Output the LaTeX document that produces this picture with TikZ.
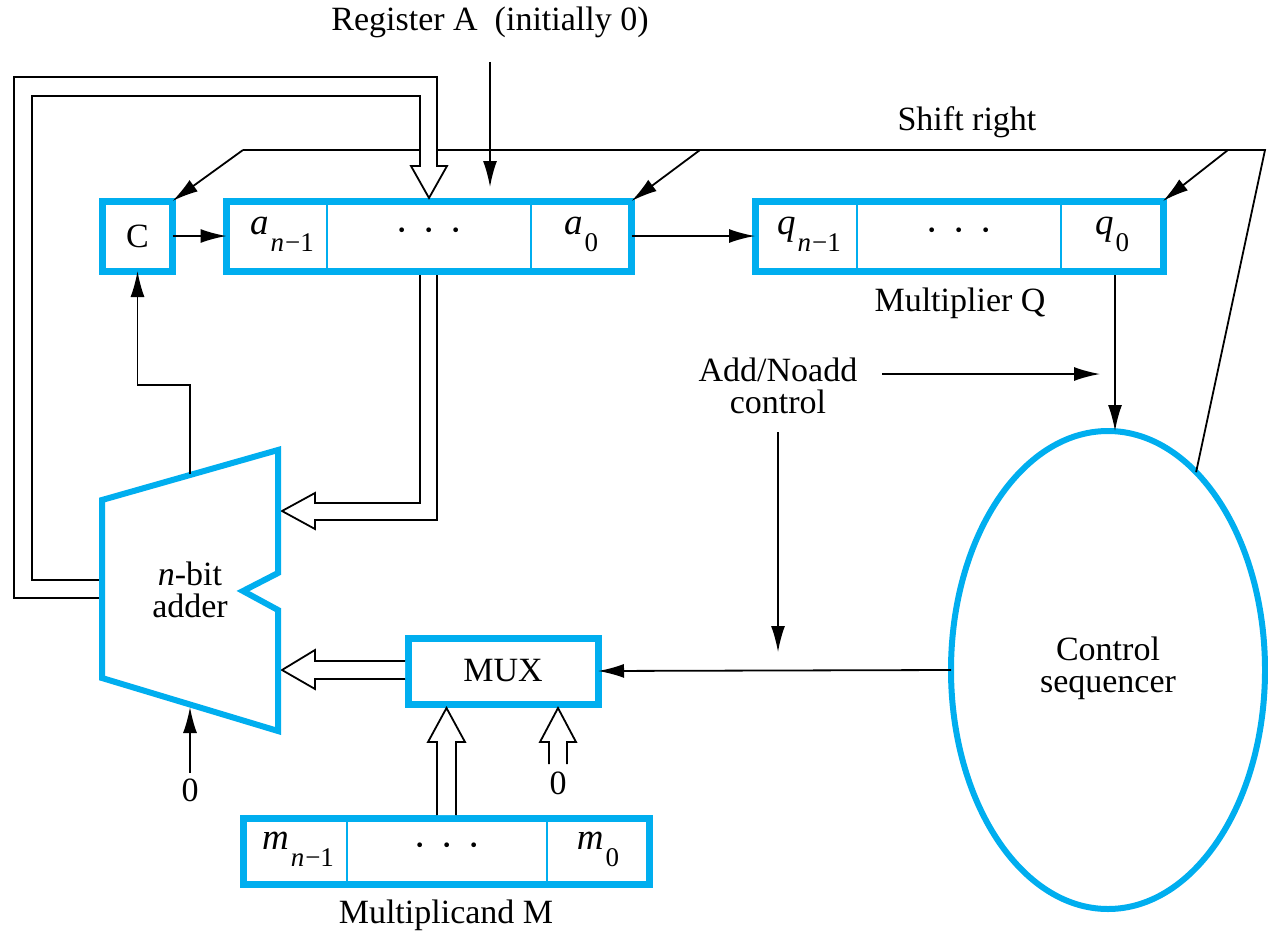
\documentclass[tikz,border=0pt]{standalone}
\usepackage{fontspec}
\setmainfont{Liberation Serif}
\usetikzlibrary{arrows.meta,shapes.geometric}
\definecolor{regblue}{RGB}{0,174,239}
\newcommand{\lowsub}[1]{\raisebox{-0.5em}{\fontsize{27}{27}\selectfont #1}}
\newcommand{\cellvar}[2]{{\fontsize{37}{37}\selectfont\itshape #1}\kern2pt\lowsub{#2}}
\newcommand{\nmone}{{\itshape n}\kern1pt−1}
\newcommand{\threedots}{{\fontsize{40}{40}\selectfont ·\hspace{14pt}·\hspace{14pt}·}}
\begin{document}
\begin{tikzpicture}[x=1pt,y=-1pt,
  every node/.style={inner sep=0pt,outer sep=0pt,font=\fontsize{34}{32}\selectfont},
  reg/.style={draw=regblue,line width=7pt,rectangle,fill=white},
  cellline/.style={draw=regblue,line width=2pt},
  wire/.style={draw=black,line width=1.8pt},
  sig/.style={wire,-{Latex[length=26pt,width=14pt]}},
  bus/.style={draw=black,line width=1.8pt,fill=white,line join=miter}]
\useasboundingbox (0,0) rectangle (1268,934);

% ---------- registers and blocks ----------
\node[reg,minimum width=70,minimum height=70] (C) at (137.5,236) {C};
\node[reg,minimum width=405,minimum height=70] (A) at (429,236) {};
\node[reg,minimum width=408,minimum height=70] (Q) at (959,236) {};
\node[reg,minimum width=190,minimum height=66] (mux) at (503,671) {MUX};
\node[reg,minimum width=406,minimum height=66] (M) at (446,851) {};
\node[draw=regblue,line width=6pt,ellipse,minimum width=314,minimum height=478] (seq) at (1108,670) {};
\node[align=center] (seqtext) at (1108,668) {Control\\sequencer};

% cell dividers
\draw[cellline] (A.north -| 327,0) -- (A.south -| 327,0);
\draw[cellline] (A.north -| 531,0) -- (A.south -| 531,0);
\draw[cellline] (Q.north -| 857,0) -- (Q.south -| 857,0);
\draw[cellline] (Q.north -| 1061,0) -- (Q.south -| 1061,0);
\draw[cellline] (M.north -| 347,0) -- (M.south -| 347,0);
\draw[cellline] (M.north -| 547,0) -- (M.south -| 547,0);

% cell contents
\node (an) at (282,234) {\cellvar{a}{\nmone}};
\node (ad) at (429,236) {\threedots};
\node (a0) at (581,234) {\cellvar{a}{0}};
\node (qn) at (809,234) {\cellvar{q}{\nmone}};
\node (qd) at (959,236) {\threedots};
\node (q0) at (1112,234) {\cellvar{q}{0}};
\node (mn) at (298,849) {\cellvar{m}{\nmone}};
\node (md) at (447,851) {\threedots};
\node (m0) at (598,849) {\cellvar{m}{0}};

% ---------- labels ----------
\node (regA) at (490,22) {Register A\ \ (initially 0)};
\node (shift) at (967,122) {Shift right};
\node (mulQ) at (960,303) {Multiplier Q};
\node[align=center] (addctl) at (778,386) {Add/Noadd\\control};
\node (mulM) at (446,915) {Multiplicand M};
\node (zeroA) at (190,790) {0};
\node (zeroM) at (558,783) {0};

% ---------- shift-right control line ----------
\coordinate (s1) at (243,150);
\coordinate (s2) at (700,150);
\coordinate (s3) at (1228,150);
\coordinate (s4) at (1265,150);
\draw[wire] (s1) -- (s4) -- (seq.66);
\draw[sig] (s1) -- (C.north east);
\draw[sig] (s2) -- (A.north east);
\draw[sig] (s3) -- (Q.north east);

% ---------- n-bit adder ----------
\coordinate (ad1) at (102,500);
\coordinate (ad2) at (278,450);
\coordinate (ad3) at (278,573);
\coordinate (ad4) at (243,591);
\coordinate (ad5) at (278,610);
\coordinate (ad6) at (278,731);
\coordinate (ad7) at (102,678);

% feedback bus from the adder back into register A
\draw[bus,fill=none] (102,598) -- (14,598) -- (14,77) -- (437,77) -- (437,150);
\draw[bus,fill=none] (102,580) -- (32,580) -- (32,96) -- (420,96) -- (420,150);
\draw[bus] (420,140) -- (420,166) -- (411,166) -- (429,198) -- (447,166) -- (437,166) -- (437,140);
\fill[white] (421,141) rectangle (436,165);

% register A output bus into the adder
\draw[bus] (420,275) -- (420,503) -- (315,503) -- (315,493) -- (282,511)
  -- (315,529) -- (315,520) -- (437,520) -- (437,275);

% multiplexer output bus into the adder
\draw[bus] (405,661) -- (315,661) -- (315,650) -- (282,670) -- (315,689)
  -- (315,679) -- (405,679);

% multiplicand bus into the multiplexer
\draw[bus] (437,815) -- (437,742) -- (428,742) -- (446.5,708) -- (465,742)
  -- (456,742) -- (456,815);

% constant zero bus into the multiplexer
\draw[bus] (549,764) -- (549,742) -- (540,742) -- (558,708) -- (576,742)
  -- (567,742) -- (567,764);

\draw[draw=regblue,line width=6pt,fill=white,line join=miter]
  (ad1) -- (ad2) -- (ad3) -- (ad4) -- (ad5) -- (ad6) -- (ad7) -- cycle;
\node[align=center] (addtext) at (190,590) {{\itshape n}-bit\\adder};

% ---------- control signals ----------
\draw[sig] (490,62) -- (490,187);
\draw[sig] (C.east) -- (A.west);
\draw[sig] (A.east) -- (Q.west);
\draw[sig] (1115,275) -- (seq.north -| 1115,0);
\coordinate (ctlR) at (882,374);
\coordinate (ctlE) at (1100,374);
\draw[sig] (ctlR) -- (ctlE);
\coordinate (ctlD) at (778,432);
\draw[sig] (ctlD) -- (778,652);
\draw[sig] (seq.west) -- (mux.east);
\coordinate (carry) at (190,474);
\draw[sig] (carry) -- (190,385) -- (137.5,385) -- (C.south);
\draw[sig] (zeroA.north) ++(0,-6) -- (190,707);
\end{tikzpicture}
\end{document}
